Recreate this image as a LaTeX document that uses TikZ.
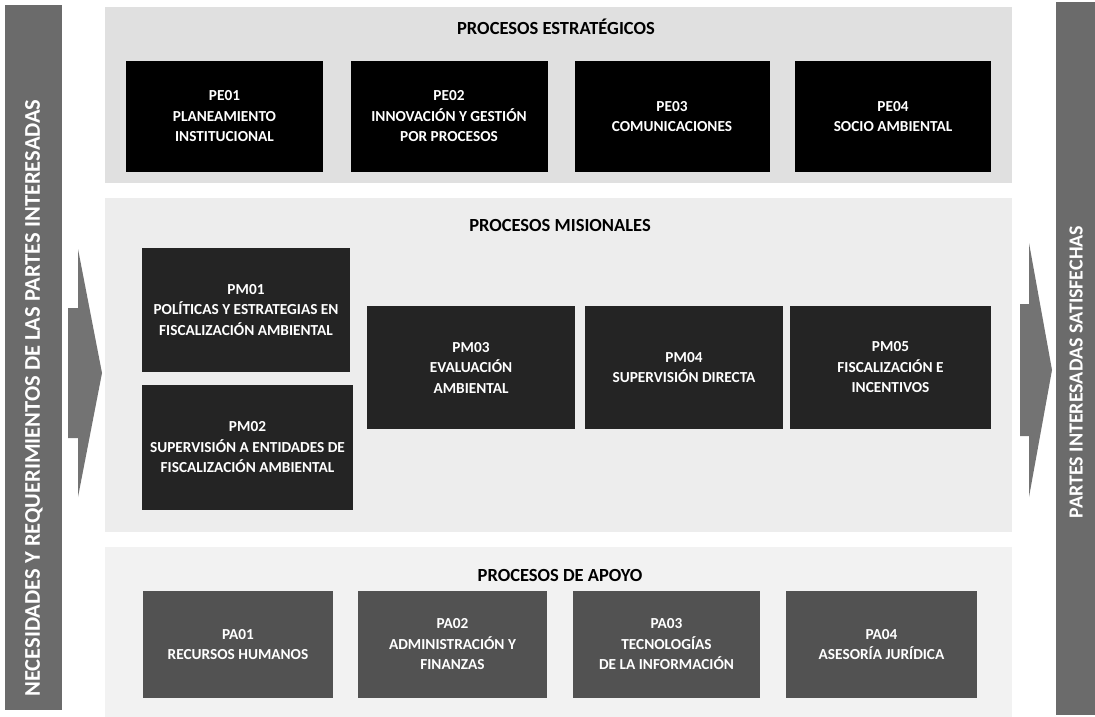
\documentclass[tikz,border=0pt]{standalone}
\usepackage{fontspec}
\setmainfont{Carlito}
\begin{document}
\begin{tikzpicture}[x=1pt,y=-1pt,
  sectionbg/.style={fill=#1},
  pebox/.style={fill=black, text=white, font=\bfseries\fontsize{15.3}{20.5}\selectfont, align=center, inner sep=0pt},
  pmbox/.style={pebox, fill=black!86},
  pabox/.style={pebox, fill=black!68},
  sectitle/.style={text=black, font=\bfseries\fontsize{18.5}{20}\selectfont, inner sep=0pt},
  sidebar/.style={fill=black!58},
  sidetext/.style={text=white, font=\bfseries\fontsize{22.5}{24}\selectfont, rotate=90, inner sep=0pt},
  flowarrow/.style={fill=black!55}
]
\useasboundingbox (0,0) rectangle (1095,717);
\fill[white] (0,0) rectangle (1095,717);

% section backgrounds
\fill[sectionbg=gray!24] (105,7) rectangle (1012,183);
\fill[sectionbg=gray!14] (105,198) rectangle (1012,532);
\fill[sectionbg=gray!10] (105,547) rectangle (1012,717);

% side bars
\fill[sidebar] (5,5) rectangle (62,710);
\fill[sidebar] (1056,2) rectangle (1095,715);
\node[sidetext] (leftlabel) at (34,398) {NECESIDADES Y REQUERIMIENTOS DE LAS PARTES INTERESADAS};
\node[sidetext, font=\bfseries\fontsize{20}{22}\selectfont] (rightlabel) at (1076,372) {PARTES INTERESADAS SATISFECHAS};

% arrows
\fill[flowarrow] (68,308) -- (78,308) -- (78,249) -- (102,373) -- (78,497) -- (78,438) -- (68,438) -- cycle;
\fill[flowarrow] (1020,304) -- (1029,304) -- (1029,243) -- (1052,370) -- (1029,497) -- (1029,436) -- (1020,436) -- cycle;

% titles
\node[sectitle] (tstrat) at (556,27) {PROCESOS ESTRATÉGICOS};
\node[sectitle] (tmis) at (560,225) {PROCESOS MISIONALES};
\node[sectitle] (tapo) at (560,575) {PROCESOS DE APOYO};

% strategic
\node[pebox, minimum width=197pt, minimum height=111pt] (pe1) at (224.5,116.5) {PE01\\PLANEAMIENTO\\INSTITUCIONAL};
\node[pebox, minimum width=197pt, minimum height=111pt] (pe2) at (449,116.5) {PE02\\INNOVACIÓN Y GESTIÓN\\POR PROCESOS};
\node[pebox, minimum width=195pt, minimum height=111pt] (pe3) at (672,116.5) {PE03\\COMUNICACIONES};
\node[pebox, minimum width=196pt, minimum height=111pt] (pe4) at (893,116.5) {PE04\\SOCIO AMBIENTAL};

% misional
\node[pmbox, minimum width=208pt, minimum height=124pt] (pm1) at (246,310) {PM01\\POLÍTICAS Y ESTRATEGIAS EN\\FISCALIZACIÓN AMBIENTAL};
\node[pmbox, minimum width=211pt, minimum height=125pt] (pm2) at (247.5,447.5) {PM02\\SUPERVISIÓN A ENTIDADES DE\\FISCALIZACIÓN AMBIENTAL};
\node[pmbox, minimum width=208pt, minimum height=123pt] (pm3) at (471,367.5) {PM03\\EVALUACIÓN\\AMBIENTAL};
\node[pmbox, minimum width=198pt, minimum height=123pt] (pm4) at (684,367.5) {PM04\\SUPERVISIÓN DIRECTA};
\node[pmbox, minimum width=201pt, minimum height=123pt] (pm5) at (890.5,367.5) {PM05\\FISCALIZACIÓN E\\INCENTIVOS};

% apoyo
\node[pabox, minimum width=190pt, minimum height=107pt] (pa1) at (238,644.5) {PA01\\RECURSOS HUMANOS};
\node[pabox, minimum width=189pt, minimum height=107pt] (pa2) at (452.5,644.5) {PA02\\ADMINISTRACIÓN Y\\FINANZAS};
\node[pabox, minimum width=187pt, minimum height=107pt] (pa3) at (666.5,644.5) {PA03\\TECNOLOGÍAS\\DE LA INFORMACIÓN};
\node[pabox, minimum width=191pt, minimum height=107pt] (pa4) at (881.5,644.5) {PA04\\ASESORÍA JURÍDICA};
\end{tikzpicture}
\end{document}
